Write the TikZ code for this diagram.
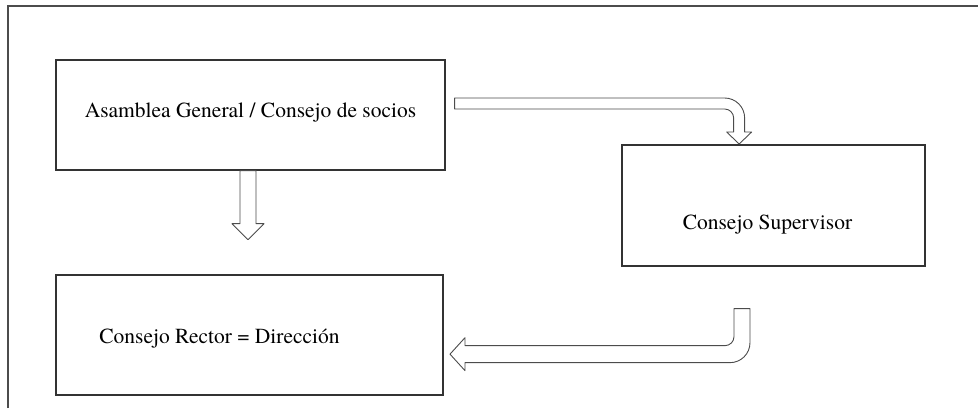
\documentclass[tikz,border=0pt]{standalone}
\usepackage{fontspec}
\setmainfont{TeX Gyre Termes}
\usetikzlibrary{calc}

\tikzset{
box/.style={draw=black!80,line width=1.3pt,rectangle,inner sep=0pt},
blockarrow/.style={draw=black!70,line width=0.9pt,fill=white,line join=round},
frame/.style={draw=black!70,line width=1.5pt}
}

\begin{document}
\begin{tikzpicture}[x=1pt,y=-1pt,font=\rmfamily\fontsize{21.5}{24}\selectfont]
\useasboundingbox (0,0) rectangle (978,408);
\draw[frame] (8,408) -- (8,6) -- (978,6);
\node[box,minimum width=389pt,minimum height=110pt,label={[name=asambleatext,yshift=3pt]center:Asamblea General / Consejo de socios}] (asamblea) at (250.5,115) {};
\node[box,minimum width=303pt,minimum height=121pt,label={[name=supervisortext,xshift=-6pt,yshift=-19pt]center:Consejo Supervisor}] (supervisor) at (773.5,205.5) {};
\node[box,minimum width=387pt,minimum height=120pt,label={[name=rectortext,xshift=-30pt,yshift=-4pt]center:Consejo Rector = Dirección}] (rector) at (249.5,335) {};
\coordinate (topstart) at ($(asamblea.east)+(9,-17)$);
\coordinate (downstart) at ($(asamblea.south)+(-10.5,0)$);
\coordinate (botstart) at ($(supervisor.south)+(-39.5,42)$);
\draw[blockarrow] (topstart) -- ++(270,0) arc[start angle=-90,end angle=0,radius=20] -- ++(0,14) -- ++(7,0) -- ++(-12.5,12) -- ++(-12.5,-12) -- ++(7,0) -- ++(0,-14) arc[start angle=0,end angle=-90,radius=9] -- ++(-270,0) -- cycle;
\draw[blockarrow] (downstart) -- ++(0,53) -- ++(-8,0) -- ++(16,16) -- ++(16,-16) -- ++(-8,0) -- ++(0,-53) -- cycle;
\draw[blockarrow] (botstart) -- ++(16,0) -- ++(0,34) arc[start angle=0,end angle=90,radius=20] -- ++(-265,0) -- ++(0,8) -- ++(-15,-16.5) -- ++(15,-16.5) -- ++(0,8) -- ++(260,0) arc[start angle=90,end angle=0,radius=9] -- cycle;
\end{tikzpicture}
\end{document}
